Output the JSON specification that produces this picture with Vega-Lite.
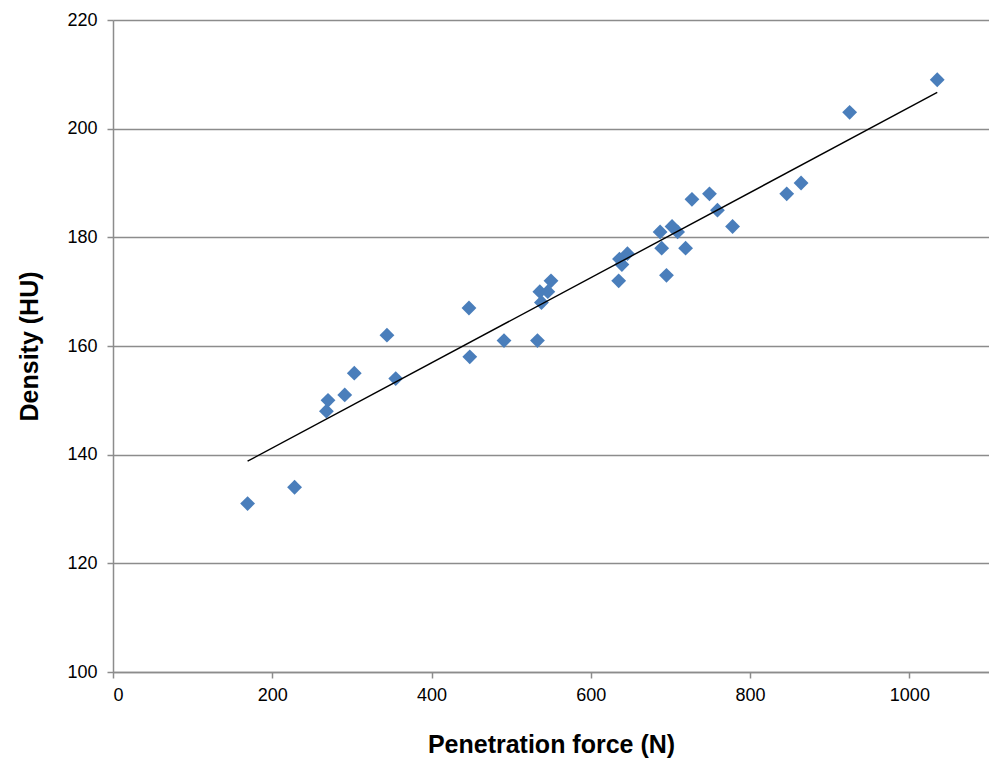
{
  "$schema": "https://vega.github.io/schema/vega-lite/v6.json",
  "autosize": "none",
  "padding": {"left": 113, "top": 20, "right": 0, "bottom": 88},
  "width": 876,
  "height": 652,
  "background": "white",
  "config": {
    "view": {"stroke": null},
    "font": "Liberation Sans",
    "axis": {
      "domainColor": "#8c8c8c",
      "domainWidth": 1.5,
      "tickColor": "#8c8c8c",
      "tickWidth": 1.5,
      "tickSize": 6,
      "gridColor": "#8c8c8c",
      "gridWidth": 1.3,
      "labelFont": "Liberation Sans",
      "labelFontSize": 18,
      "labelColor": "#000000",
      "titleFont": "Liberation Sans",
      "titleFontSize": 25,
      "titleFontWeight": "bold",
      "titleColor": "#000000"
    }
  },
  "data": {
    "values": [
      {"force": 169, "density": 131},
      {"force": 228, "density": 134},
      {"force": 268, "density": 148},
      {"force": 270, "density": 150},
      {"force": 291, "density": 151},
      {"force": 303, "density": 155},
      {"force": 344, "density": 162},
      {"force": 355, "density": 154},
      {"force": 447, "density": 167},
      {"force": 448, "density": 158},
      {"force": 491, "density": 161},
      {"force": 533, "density": 161},
      {"force": 536, "density": 170},
      {"force": 538, "density": 168},
      {"force": 546, "density": 170},
      {"force": 550, "density": 172},
      {"force": 635, "density": 172},
      {"force": 636, "density": 176},
      {"force": 639, "density": 175},
      {"force": 646, "density": 177},
      {"force": 687, "density": 181},
      {"force": 689, "density": 178},
      {"force": 695, "density": 173},
      {"force": 702, "density": 182},
      {"force": 709, "density": 181},
      {"force": 719, "density": 178},
      {"force": 727, "density": 187},
      {"force": 749, "density": 188},
      {"force": 759, "density": 185},
      {"force": 778, "density": 182},
      {"force": 846, "density": 188},
      {"force": 864, "density": 190},
      {"force": 925, "density": 203},
      {"force": 1035, "density": 209}
    ]
  },
  "layer": [
    {
      "mark": {"type": "point", "shape": "diamond", "filled": true, "size": 220, "color": "#4a7ebb", "opacity": 1},
      "encoding": {
        "x": {
          "field": "force", "type": "quantitative",
          "scale": {"domain": [0, 1100], "nice": false},
          "axis": {"title": "Penetration force (N)", "values": [0, 200, 400, 600, 800, 1000], "format": "d", "grid": false, "labelPadding": 8, "titlePadding": 28}
        },
        "y": {
          "field": "density", "type": "quantitative",
          "scale": {"domain": [100, 220], "nice": false, "zero": false},
          "axis": {"title": "Density (HU)", "values": [100, 120, 140, 160, 180, 200, 220], "grid": true, "labelPadding": 10, "titlePadding": 24}
        }
      }
    },
    {
      "transform": [{"regression": "density", "on": "force"}],
      "mark": {"type": "line", "color": "#000000", "strokeWidth": 1.4},
      "encoding": {
        "x": {"field": "force", "type": "quantitative"},
        "y": {"field": "density", "type": "quantitative"}
      }
    }
  ]
}
